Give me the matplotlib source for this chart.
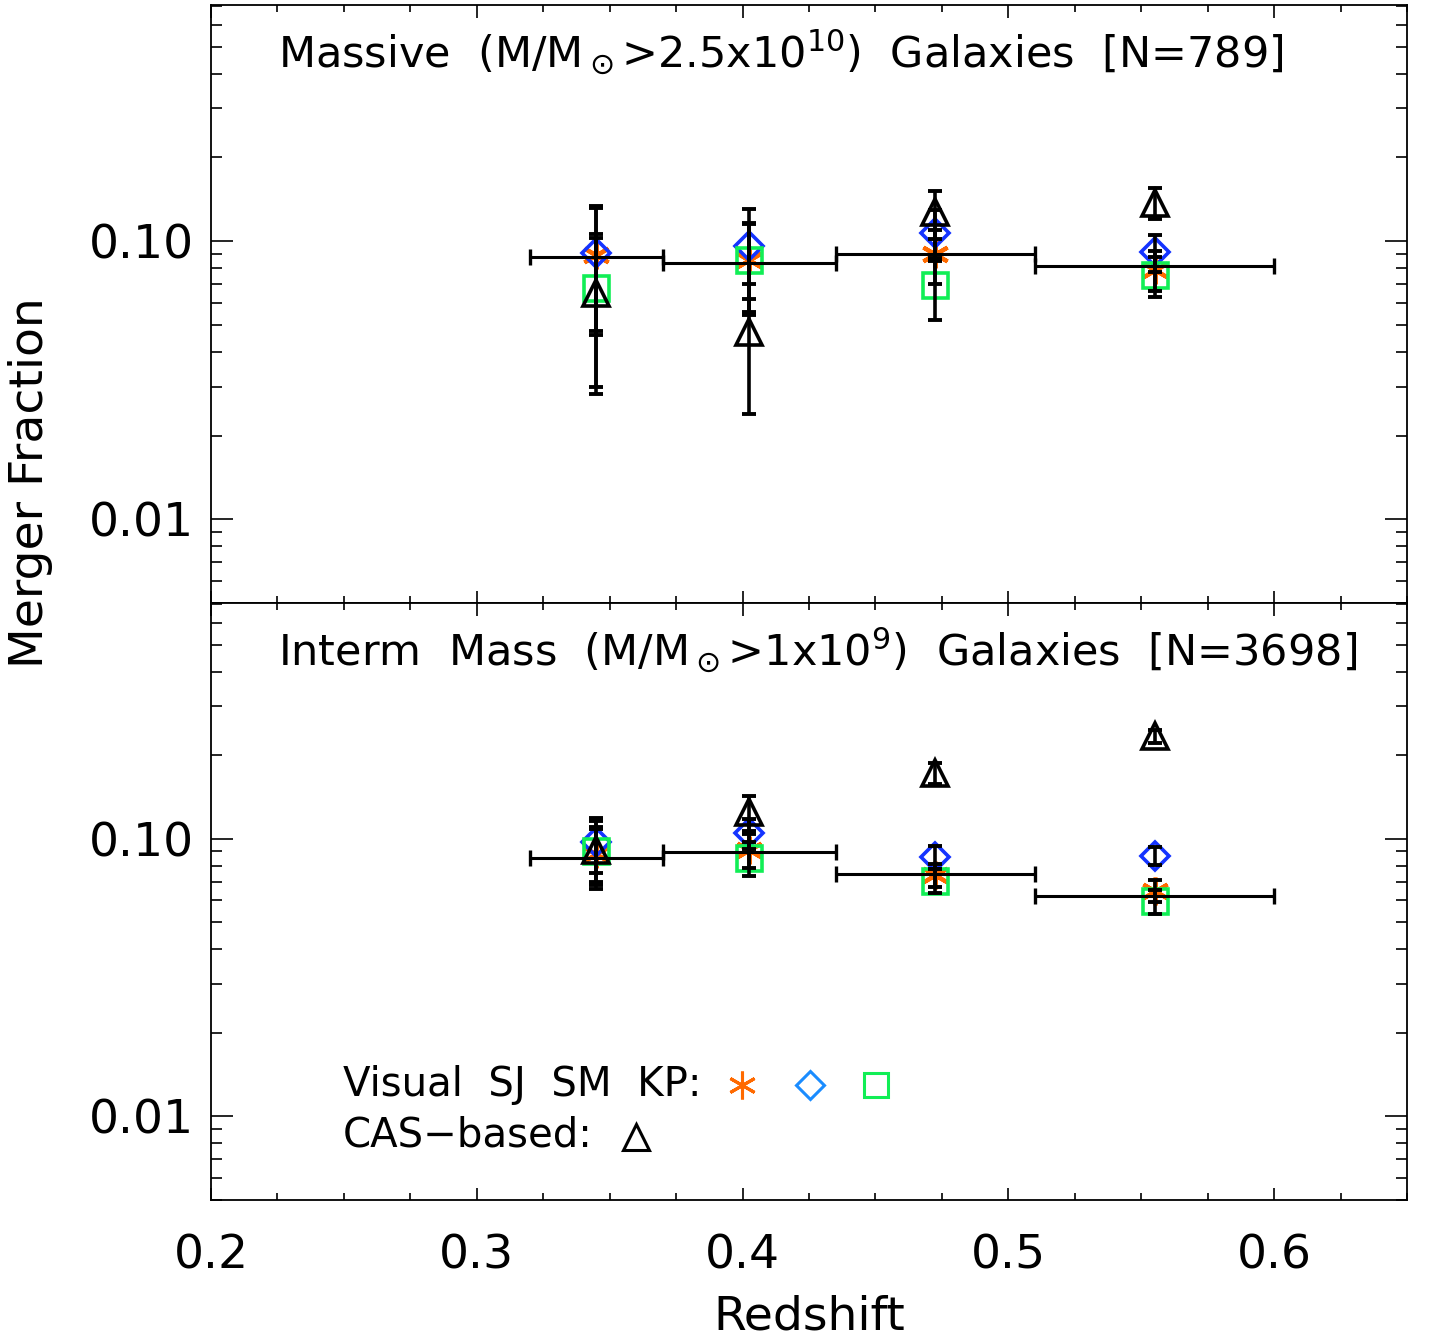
import matplotlib
matplotlib.use("Agg")
import matplotlib.pyplot as plt
from matplotlib.ticker import FixedLocator, LogLocator, NullFormatter, MultipleLocator

plt.rcParams["font.family"] = ["DejaVu Sans"]
plt.rcParams["mathtext.fontset"] = "dejavusans"

# redshift bins (centre, half-width)
z = [0.345, 0.4025, 0.4725, 0.555]
dz = [0.025, 0.0325, 0.0375, 0.045]

# --- massive galaxies (top panel)
top_avg = [0.0876, 0.0834, 0.0898, 0.0813]
top_sj = [0.089, 0.0854, 0.090, 0.079]
top_sj_err = [0.043, 0.031, 0.020, 0.013]
top_sm = [0.0905, 0.096, 0.107, 0.0913]
top_sm_err = [0.043, 0.034, 0.022, 0.014]
top_kp = [0.068, 0.0854, 0.0695, 0.0755]
top_kp_err = [0.038, 0.030, 0.0175, 0.0125]
top_cas = [0.0653, 0.047, 0.127, 0.1375]
top_cas_err = [0.037, 0.023, 0.025, 0.0175]

# --- intermediate mass galaxies (bottom panel)
bot_avg = [0.0854, 0.0898, 0.0748, 0.0624]
bot_sj = [0.088, 0.0913, 0.0742, 0.065]
bot_sj_err = [0.020, 0.013, 0.007, 0.006]
bot_sm = [0.097, 0.105, 0.086, 0.087]
bot_sm_err = [0.022, 0.013, 0.008, 0.0065]
bot_kp = [0.090, 0.0854, 0.0706, 0.0595]
bot_kp_err = [0.020, 0.012, 0.007, 0.006]
bot_cas = [0.091, 0.125, 0.172, 0.234]
bot_cas_err = [0.025, 0.018, 0.015, 0.013]

titles = [r"Massive  (M/M$_\odot$>2.5x10$^{10}$)  Galaxies  [N=789]",
          r"Interm  Mass  (M/M$_\odot$>1x10$^{9}$)  Galaxies  [N=3698]"]

ORANGE = "#ff6a00"
BLUE = "#1433ff"
LBLUE = "#1a8cff"
GREEN = "#11ee55"
ASTER = (6, 2, 0)

fig = plt.figure(figsize=(14.31, 13.41), dpi=100)
L, R = 211 / 1431, 1407 / 1431
ax_top = fig.add_axes([L, 1 - 603 / 1341, R - L, 598 / 1341])
ax_bot = fig.add_axes([L, 1 - 1200 / 1341, R - L, 597 / 1341])

panels = [
    (ax_top, top_avg, top_sj, top_sj_err, top_sm, top_sm_err, top_kp, top_kp_err, top_cas, top_cas_err),
    (ax_bot, bot_avg, bot_sj, bot_sj_err, bot_sm, bot_sm_err, bot_kp, bot_kp_err, bot_cas, bot_cas_err),
]

for i, (ax, avg, sj, sje, sm, sme, kp, kpe, cas, case) in enumerate(panels):
    ax.set_yscale("log")
    ax.set_xlim(0.2, 0.65)
    ax.set_ylim(0.005, 0.706)

    ax.plot(z, sj, ls="none", marker=ASTER, ms=20, mec=ORANGE, mew=3, zorder=2)
    ax.plot(z, sm, ls="none", marker="D", ms=14, mfc="none", mec=BLUE, mew=2.6, zorder=3)
    ax.plot(z, kp, ls="none", marker="s", ms=18, mfc="none", mec=GREEN, mew=2.6, zorder=3)
    ax.plot(z, cas, ls="none", marker="^", ms=19, mfc="none", mec="k", mew=2.6, zorder=4)

    for vals, errs in [(sj, sje), (sm, sme), (kp, kpe), (cas, case)]:
        ax.errorbar(z, vals, yerr=errs, fmt="none", ecolor="k", elinewidth=2.6,
                    capsize=5, capthick=2.8, zorder=5)
    ax.errorbar(z, avg, xerr=dz, fmt="none", ecolor="k", elinewidth=2.2,
                capsize=5.5, capthick=2.4, zorder=5)

    ax.yaxis.set_major_locator(FixedLocator([0.01, 0.1]))
    ax.set_yticklabels(["0.01", "0.10"])
    ax.yaxis.set_minor_locator(LogLocator(base=10, subs=range(2, 10)))
    ax.yaxis.set_minor_formatter(NullFormatter())
    ax.xaxis.set_major_locator(MultipleLocator(0.1))
    ax.xaxis.set_minor_locator(MultipleLocator(0.025))
    ax.tick_params(which="both", direction="in", top=True, right=True, labelsize=34)
    ax.tick_params(axis="y", which="major", length=16, width=1.2, pad=12)
    ax.tick_params(axis="y", which="minor", length=8, width=1.2)
    ax.tick_params(axis="x", which="major", length=9, width=1.2, pad=24)
    ax.tick_params(axis="x", which="minor", length=5, width=1.2)
    for s in ax.spines.values():
        s.set_linewidth(1.3)

    ax.text(0.056, 0.92, titles[i], transform=ax.transAxes, fontsize=31,
            ha="left", va="center")

ax_top.tick_params(axis="x", labelbottom=False)
ax_bot.set_xticks([0.2, 0.3, 0.4, 0.5, 0.6])
ax_bot.set_xticklabels(["0.2", "0.3", "0.4", "0.5", "0.6"])
ax_bot.set_xlabel("Redshift", fontsize=34, labelpad=12)
fig.text(0.021, 1 - 483 / 1341, "Merger Fraction", rotation=90, fontsize=34,
         ha="center", va="center")

# key, drawn inside the lower panel
ax_bot.text(0.110, 0.193, "Visual  SJ  SM  KP:", transform=ax_bot.transAxes,
            fontsize=29, ha="left", va="center")
ax_bot.text(0.110, 0.108, "CAS\u2212based:", transform=ax_bot.transAxes,
            fontsize=29, ha="left", va="center")
ax_bot.plot([0.444], [0.193], transform=ax_bot.transAxes, marker=ASTER, ms=20,
            mec=ORANGE, mew=2.2, ls="none", clip_on=False)
ax_bot.plot([0.501], [0.193], transform=ax_bot.transAxes, marker="D", ms=14,
            mfc="none", mec=LBLUE, mew=2.2, ls="none", clip_on=False)
ax_bot.plot([0.556], [0.193], transform=ax_bot.transAxes, marker="s", ms=17,
            mfc="none", mec=GREEN, mew=2.2, ls="none", clip_on=False)
ax_bot.plot([0.355], [0.105], transform=ax_bot.transAxes, marker="^", ms=19,
            mfc="none", mec="k", mew=2.2, ls="none", clip_on=False)

fig.savefig("out.png", dpi=100)
